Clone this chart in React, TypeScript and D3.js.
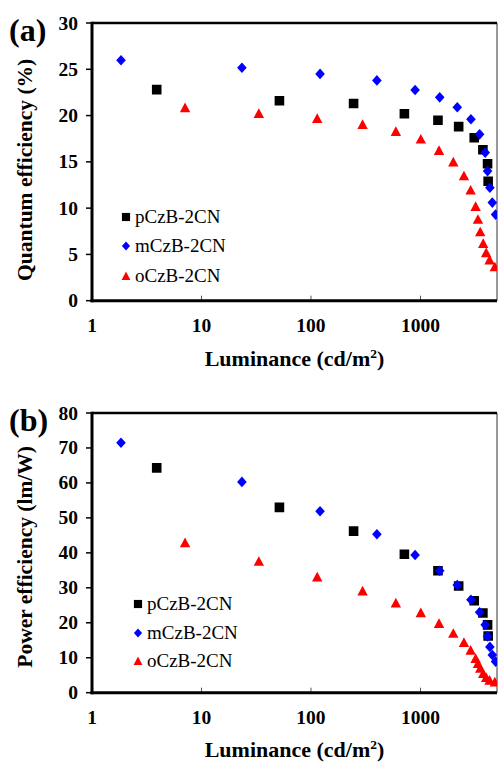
import React from "react";
import * as d3 from "d3";

// ---------- Data ----------
const seriesNames = ["pCzB-2CN", "mCzB-2CN", "oCzB-2CN"];
const seriesColors = ["#000000", "#0000ff", "#ff0000"];

// pCzB-2CN
const pLum = [3.9, 51.5, 245, 713, 1445, 2233, 3097, 3716, 4100, 4150];
const pEQE = [22.8, 21.6, 21.3, 20.2, 19.5, 18.8, 17.6, 16.3, 14.8, 12.9];
const pPE = [64.3, 53.0, 46.2, 39.6, 34.9, 30.5, 26.3, 22.8, 19.4, 16.2];

// mCzB-2CN
const mLum = [1.84, 23.4, 121, 400, 893, 1499, 2168, 2890, 3468, 3900, 4100, 4305, 4530, 4850];
const mEQE = [25.97, 25.17, 24.5, 23.8, 22.76, 21.97, 20.9, 19.6, 17.97, 16.0, 14.0, 12.2, 10.6, 9.3];
const mPE = [71.5, 60.3, 51.9, 45.3, 39.4, 34.9, 30.8, 26.6, 23.0, 19.4, 16.1, 13.1, 10.8, 8.9];

// oCzB-2CN
const oLum = [7.08, 33.4, 114, 296, 596, 1007, 1477, 1995, 2495, 2871, 3190, 3350, 3513, 3741, 3982, 4276, 4778];
const oEQE = [20.85, 20.24, 19.7, 19.05, 18.3, 17.47, 16.25, 15.0, 13.5, 11.96, 10.2, 8.8, 7.45, 6.2, 5.2, 4.4, 3.67];
const oPE = [42.9, 37.6, 33.1, 29.1, 25.7, 22.9, 19.8, 17.0, 14.4, 12.2, 9.8, 8.4, 7.0, 5.5, 4.4, 3.6, 3.1];

const xTicks = [1, 10, 100, 1000];
const eqeTicks = [0, 5, 10, 15, 20, 25, 30];
const peTicks = [0, 10, 20, 30, 40, 50, 60, 70, 80];

const FONT = "'Liberation Serif', 'Times New Roman', serif";

function marker(kind: number, size = 1): string {
  if (kind === 0) {
    const h = 4.8 * size;
    return `M${-h},${-h}H${h}V${h}H${-h}Z`;
  }
  if (kind === 1) {
    const w = 4.8 * size, h = 5.3 * size;
    return `M0,${-h}L${w},0L0,${h}L${-w},0Z`;
  }
  const w = 5.2 * size, h = 4.6 * size;
  return `M0,${-h - 0.5}L${w},${h}L${-w},${h}Z`;
}

type PanelProps = {
  id: string;
  top: number;
  bottom: number;
  yMax: number;
  yTicks: number[];
  ySeries: number[][];
  yTitle: string;
  yTitleShift: number;
  label: string;
  legendX: number;
  legendY: number[];
  xTickY: number;
  xTitleY: number;
};

const LEFT = 92;
const RIGHT = 497;

function Panel(p: PanelProps) {
  const x = d3.scaleLog().domain([1, 5000]).range([LEFT, RIGHT]);
  const y = d3.scaleLinear().domain([0, p.yMax]).range([p.bottom, p.top]);
  const lums = [pLum, mLum, oLum];
  const midY = (p.top + p.bottom) / 2 + p.yTitleShift;
  return (
    <g>
      <defs>
        <clipPath id={`clip-${p.id}`}>
          <rect x={LEFT} y={p.top - 6} width={RIGHT - LEFT} height={p.bottom - p.top + 12} />
        </clipPath>
      </defs>
      {/* frame */}
      <line x1={RIGHT} x2={RIGHT} y1={p.top} y2={p.bottom} stroke="#555" strokeWidth={1.2} />
      <line x1={LEFT} x2={RIGHT} y1={p.top} y2={p.top} stroke="#000" strokeWidth={2.5} />
      {/* x ticks */}
      {xTicks.map((t) => (
        <g key={`xt${t}`}>
          {t > 1 && (
            <line x1={x(t)} x2={x(t)} y1={p.bottom} y2={p.bottom - 5} stroke="#555" strokeWidth={1} />
          )}
          <text x={x(t)} y={p.xTickY} textAnchor="middle" fontFamily={FONT} fontWeight="bold" fontSize={19.5}>
            {t}
          </text>
        </g>
      ))}
      {/* y ticks */}
      {p.yTicks.map((t) => (
        <g key={`yt${t}`}>
          <line x1={LEFT - 6} x2={LEFT} y1={y(t)} y2={y(t)} stroke="#000" strokeWidth={1.5} />
          <text x={78} y={y(t) + 6.5} textAnchor="end" fontFamily={FONT} fontWeight="bold" fontSize={19.5}>
            {t}
          </text>
        </g>
      ))}
      {/* data */}
      <g clipPath={`url(#clip-${p.id})`}>
        {p.ySeries.map((vals, si) =>
          vals.map((v, i) => (
            <path
              key={`m${si}-${i}`}
              d={marker(si)}
              transform={`translate(${x(lums[si][i])},${y(v)})`}
              fill={seriesColors[si]}
            />
          ))
        )}
      </g>
      {/* axes */}
      <line x1={LEFT} x2={LEFT} y1={p.top - 1.2} y2={p.bottom + 1.5} stroke="#000" strokeWidth={3} />
      <line x1={LEFT - 1.5} x2={RIGHT} y1={p.bottom} y2={p.bottom} stroke="#000" strokeWidth={3} />
      {/* legend */}
      {seriesNames.map((n, i) => (
        <g key={`lg${i}`}>
          <path d={marker(i, 0.85)} transform={`translate(${p.legendX},${p.legendY[i]})`} fill={seriesColors[i]} />
          <text x={p.legendX + 9} y={p.legendY[i] + 6} fontFamily={FONT} fontSize={19}>
            {n}
          </text>
        </g>
      ))}
      {/* titles */}
      <text
        transform={`translate(32,${midY}) rotate(-90)`}
        textAnchor="middle"
        fontFamily={FONT}
        fontWeight="bold"
        fontSize={21.5}
      >
        {p.yTitle}
      </text>
      <text x={(LEFT + RIGHT) / 2} y={p.xTitleY} textAnchor="middle" fontFamily={FONT} fontWeight="bold" fontSize={22}>
        Luminance (cd/m<tspan dy={-8} fontSize={13.5}>2</tspan>
        <tspan dy={8}>)</tspan>
      </text>
      <text x={9} y={p.top + 18} fontFamily={FONT} fontWeight="bold" fontSize={32}>
        {p.label}
      </text>
    </g>
  );
}

export default function App() {
  return (
    <svg
      width={498}
      height={763}
      style={{ position: "absolute", left: 0, top: 0, background: "#fff" }}
    >
      <rect width={498} height={763} fill="#fff" />
      <Panel
        id="a"
        top={23}
        bottom={300.7}
        yMax={30}
        yTicks={eqeTicks}
        ySeries={[pEQE, mEQE, oEQE]}
        yTitle="Quantum efficiency (%)"
        yTitleShift={8}
        label="(a)"
        legendX={126}
        legendY={[217, 246, 276]}
        xTickY={332}
        xTitleY={366}
      />
      <Panel
        id="b"
        top={413}
        bottom={692.7}
        yMax={80}
        yTicks={peTicks}
        ySeries={[pPE, mPE, oPE]}
        yTitle="Power efficiency (lm/W)"
        yTitleShift={4}
        label="(b)"
        legendX={138}
        legendY={[604, 633, 661]}
        xTickY={724}
        xTitleY={757}
      />
    </svg>
  );
}
